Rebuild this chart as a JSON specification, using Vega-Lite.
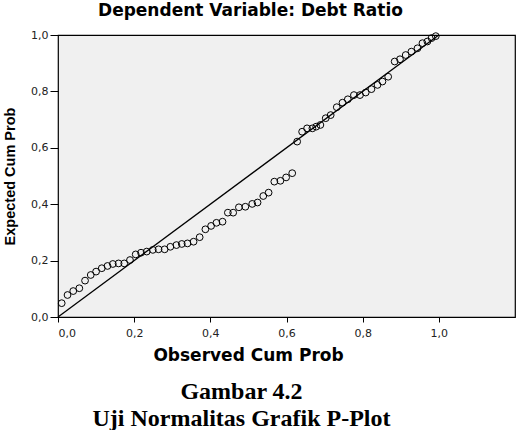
{
  "$schema": "https://vega.github.io/schema/vega-lite/v6.json",
  "autosize": {"type": "none"},
  "width": 457,
  "height": 282,
  "padding": {"left": 58, "top": 35, "right": 2, "bottom": 113},
  "background": "white",
  "title": {
    "text": ["Gambar 4.2", "Uji Normalitas Grafik P-Plot"],
    "orient": "bottom",
    "anchor": "middle",
    "frame": "group",
    "dx": -45,
    "offset": 17,
    "font": "Liberation Serif",
    "fontSize": 24,
    "fontWeight": "bold",
    "color": "black",
    "lineHeight": 27
  },
  "config": {
    "view": {"fill": "#f0f0f0", "stroke": "black", "strokeWidth": 1.2},
    "axis": {
      "domain": false,
      "grid": false,
      "tickColor": "black",
      "tickWidth": 1,
      "labelFont": "DejaVu Sans",
      "labelFontSize": 11,
      "labelColor": "#222",
      "titleColor": "black"
    }
  },
  "resolve": {"axis": {"x": "independent", "y": "shared"}},
  "layer": [
    {
      "data": {"values": [
        {"obs": 0.0097, "exp": 0.049}, {"obs": 0.025, "exp": 0.078}, {"obs": 0.040, "exp": 0.092},
        {"obs": 0.056, "exp": 0.102}, {"obs": 0.071, "exp": 0.129}, {"obs": 0.086, "exp": 0.149},
        {"obs": 0.100, "exp": 0.161}, {"obs": 0.115, "exp": 0.173}, {"obs": 0.130, "exp": 0.181},
        {"obs": 0.144, "exp": 0.188}, {"obs": 0.159, "exp": 0.190}, {"obs": 0.174, "exp": 0.190},
        {"obs": 0.189, "exp": 0.202}, {"obs": 0.204, "exp": 0.222}, {"obs": 0.218, "exp": 0.228},
        {"obs": 0.233, "exp": 0.232}, {"obs": 0.249, "exp": 0.238}, {"obs": 0.264, "exp": 0.240},
        {"obs": 0.280, "exp": 0.240}, {"obs": 0.295, "exp": 0.249}, {"obs": 0.311, "exp": 0.255},
        {"obs": 0.325, "exp": 0.259}, {"obs": 0.340, "exp": 0.261}, {"obs": 0.356, "exp": 0.267},
        {"obs": 0.372, "exp": 0.283}, {"obs": 0.387, "exp": 0.311}, {"obs": 0.402, "exp": 0.323},
        {"obs": 0.416, "exp": 0.334}, {"obs": 0.432, "exp": 0.338}, {"obs": 0.446, "exp": 0.370},
        {"obs": 0.460, "exp": 0.370}, {"obs": 0.475, "exp": 0.389}, {"obs": 0.492, "exp": 0.391},
        {"obs": 0.510, "exp": 0.401}, {"obs": 0.524, "exp": 0.406}, {"obs": 0.539, "exp": 0.429},
        {"obs": 0.553, "exp": 0.441}, {"obs": 0.568, "exp": 0.480}, {"obs": 0.584, "exp": 0.483},
        {"obs": 0.599, "exp": 0.495}, {"obs": 0.615, "exp": 0.510}, {"obs": 0.628, "exp": 0.622},
        {"obs": 0.641, "exp": 0.657}, {"obs": 0.654, "exp": 0.669}, {"obs": 0.668, "exp": 0.669},
        {"obs": 0.678, "exp": 0.675}, {"obs": 0.689, "exp": 0.681}, {"obs": 0.703, "exp": 0.705},
        {"obs": 0.716, "exp": 0.716}, {"obs": 0.732, "exp": 0.744}, {"obs": 0.747, "exp": 0.760},
        {"obs": 0.761, "exp": 0.772}, {"obs": 0.777, "exp": 0.787}, {"obs": 0.793, "exp": 0.787},
        {"obs": 0.808, "exp": 0.796}, {"obs": 0.823, "exp": 0.808}, {"obs": 0.839, "exp": 0.823},
        {"obs": 0.852, "exp": 0.835}, {"obs": 0.867, "exp": 0.852}, {"obs": 0.884, "exp": 0.906},
        {"obs": 0.898, "exp": 0.914}, {"obs": 0.913, "exp": 0.929}, {"obs": 0.928, "exp": 0.941},
        {"obs": 0.944, "exp": 0.953}, {"obs": 0.957, "exp": 0.971}, {"obs": 0.970, "exp": 0.977},
        {"obs": 0.981, "exp": 0.989}, {"obs": 0.992, "exp": 0.996}
      ]},
      "mark": {"type": "point", "shape": "circle", "filled": false, "size": 46, "stroke": "black", "strokeWidth": 1, "opacity": 1},
      "encoding": {
        "x": {
          "field": "obs", "type": "quantitative",
          "scale": {"domain": [0, 1.2], "nice": false, "zero": false},
          "axis": {
            "orient": "bottom",
            "values": [0, 0.2, 0.4, 0.6, 0.8, 1.0],
            "labelExpr": "replace(format(datum.value, '.1f'), '.', ',')",
            "tickSize": 5,
            "labelPadding": 5,
            "title": "Observed Cum Prob",
            "titleFont": "DejaVu Sans",
            "titleFontSize": 17,
            "titleFontWeight": "bold",
            "titlePadding": 9,
            "titleX": 190
          }
        },
        "y": {
          "field": "exp", "type": "quantitative",
          "scale": {"domain": [0, 1], "nice": false},
          "axis": {
            "orient": "left",
            "values": [0, 0.2, 0.4, 0.6, 0.8, 1.0],
            "labelExpr": "replace(format(datum.value, '.1f'), '.', ',')",
            "tickSize": 8,
            "labelPadding": 2,
            "title": "Expected Cum Prob",
            "titleFont": "Liberation Sans",
            "titleFontSize": 14.5,
            "titleFontWeight": "bold",
            "titlePadding": 13
          }
        }
      }
    },
    {
      "data": {"values": [{"obs": 0, "exp": 0}, {"obs": 1, "exp": 1}]},
      "mark": {"type": "line", "color": "black", "strokeWidth": 1.3},
      "encoding": {
        "x": {
          "field": "obs", "type": "quantitative",
          "axis": {
            "orient": "top",
            "domain": false, "ticks": false, "labels": false,
            "title": "Dependent Variable: Debt Ratio",
            "titleFont": "DejaVu Sans",
            "titleFontSize": 17,
            "titleFontWeight": "bold",
            "titlePadding": 16,
            "titleX": 192
          }
        },
        "y": {
          "field": "exp", "type": "quantitative",
          "axis": {
            "orient": "left",
            "values": [0, 0.2, 0.4, 0.6, 0.8, 1.0],
            "labelExpr": "replace(format(datum.value, '.1f'), '.', ',')",
            "tickSize": 8,
            "labelPadding": 2,
            "title": "Expected Cum Prob",
            "titleFont": "Liberation Sans",
            "titleFontSize": 14.5,
            "titleFontWeight": "bold",
            "titlePadding": 13
          }
        }
      }
    }
  ]
}
